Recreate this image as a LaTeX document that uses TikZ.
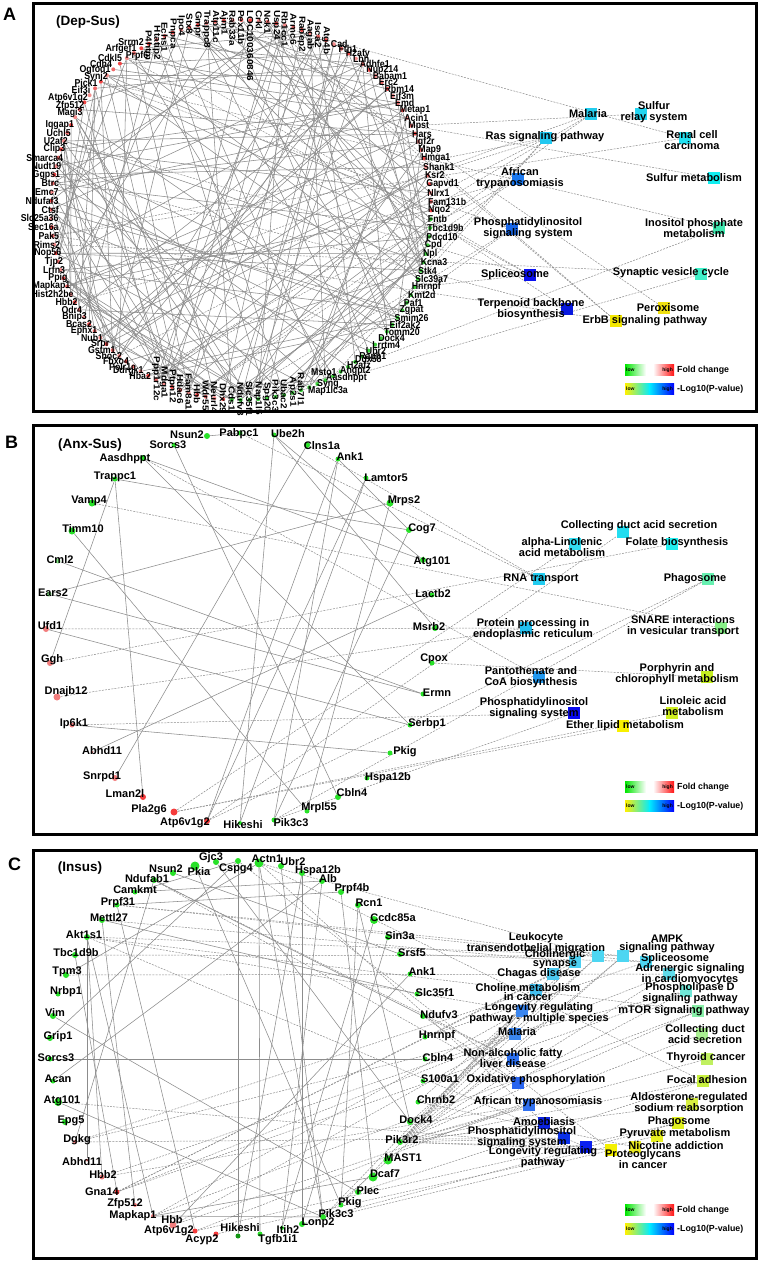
\documentclass[tikz,border=0pt]{standalone}
\usepackage{fontspec}
\usepackage{graphicx}
\setmainfont{Liberation Sans}
\pgfdeclarelayer{bg}
\pgfdeclarelayer{paper}
\pgfsetlayers{paper,bg,main}
\definecolor{edgec}{RGB}{140,140,140}
\definecolor{dotG}{RGB}{60,210,60}
\definecolor{rA0}{RGB}{240,70,70}
\definecolor{rA1}{RGB}{245,140,140}
\definecolor{rA2}{RGB}{240,105,105}
\definecolor{gG}{RGB}{40,225,40}
\definecolor{gP}{RGB}{130,230,130}
\definecolor{gD}{RGB}{20,150,20}
\definecolor{rR}{RGB}{245,60,60}
\definecolor{rP}{RGB}{242,125,125}
\definecolor{fcG}{RGB}{0,230,0}
\definecolor{fcR}{RGB}{255,20,20}
\definecolor{lgY}{RGB}{255,240,0}
\definecolor{lgC}{RGB}{0,235,255}
\definecolor{lgB}{RGB}{0,0,255}
\tikzset{
 panel/.style={draw=black,line width=3pt},
 plet/.style={font=\fontsize{18}{18}\selectfont\bfseries,inner sep=0},
 ptitle/.style={font=\fontsize{13.5}{13.5}\selectfont\bfseries,inner sep=0},
 adot/.style={circle,inner sep=0,minimum size=4pt,draw=none},
 albl/.style={font=\fontsize{10}{10}\selectfont\bfseries,inner sep=0},
 bdot/.style={circle,inner sep=0,draw=none},
 blbl/.style={font=\fontsize{11}{11}\selectfont\bfseries,inner sep=0},
 pwsq/.style={rectangle,inner sep=0,minimum size=12pt,draw=none},
 pwlbl/.style={font=\fontsize{11}{11}\selectfont\bfseries,inner sep=0,align=center},
 pwlblc/.style={font=\fontsize{11}{8.5}\selectfont\bfseries,inner sep=0,align=center},
 gedge/.style={draw=edgec,line width=0.55pt},
 pedge/.style={draw=edgec,line width=0.5pt,dash pattern=on 2pt off 1.2pt},
 lowtxt/.style={font=\fontsize{5}{5}\selectfont\bfseries,inner sep=0},
 legtxt/.style={font=\fontsize{8.8}{8.8}\selectfont\bfseries,inner sep=0,anchor=west},
}
\newcommand{\pw}[8]{\definecolor{pwc}{HTML}{#6}\node[pwsq,fill=pwc] (#1) at (#2,#3) {};\node[#8] (#1-l) at (#4,#5) {#7};}
\newcommand{\gn}[8]{\node[bdot,fill=#7,minimum size=#8pt] (#1#2) at (#3,#4) {};\node[blbl] (#1#2-l) at (#5,#6) {#2};}
\newcommand{\legendbars}[3]{%
 \path[left color=fcG,right color=white] (#2,#3) rectangle ++(21,11);
 \path[left color=white,right color=fcR] (#2+28,#3) rectangle ++(21,11);
 \node[lowtxt,anchor=west] (#1lo1) at (#2+1,#3+6) {low};
 \node[lowtxt,anchor=east] (#1hi1) at (#2+48,#3+6) {high};
 \node[legtxt] (#1fc) at (#2+52,#3+6) {Fold change};
 \path[left color=lgY,right color=lgC] (#2,#3+19) rectangle ++(25,11);
 \path[left color=lgC,right color=lgB] (#2+24.5,#3+19) rectangle ++(24.5,11);
 \node[lowtxt,anchor=west] (#1lo2) at (#2+1,#3+25) {low};
 \node[lowtxt,anchor=east] (#1hi2) at (#2+48,#3+25) {high};
 \node[legtxt] (#1pv) at (#2+52,#3+25) {-Log10(P-value)};
}
\def\genesA{P4htm,Htatip2,Echs1,Pnpca,Ipo4,Stx8,Gmpr,Trappc8,Atp11c,Ajm1,Rab33a,Pex11b,LOC100360846,Crkl,Nck1,Usp24,Rb1cc1,Armc6,Rabep2,Aagab,Isca2,Atg4b,Cad,Fth1,H2afy,Lbh,Adhfe1,Nup214,Babam1,Erc2,Rbm14,Eif3m,Emd,Metap1,Acin1,Mpst,Hars,Igf2r,Map9,Hmga1,Shank1,Ksr2,Gapvd1,Nlrx1,Fam131b,Nqo2,Fntb,Tbc1d9b,Pdcd10,Cpd,Npl,Kcna3,Stk4,Slc39a7,Hnrnpf,Kmt2d,Paf1,Zgpat,Smim26,Eif2ak2,Tomm20,Dock4,Lrrtm4,Ubr2,Raph1,Ddx58,H2afz,Msto1,Angpt2,Aasdhppt,Syng,Map1lc3a,Rab7l1,Ap2s1,Ubac2,Pik3c3,Spg20,Nap1l5,Slc35f1,Ndufv3,Cds1,Dhx29,Neurl4,Wdr55,Hbb,Fam8a1,Hdac6,Ptpn12,Mdga1,Ppp1r12c,Hba2,Ddrgk1,Polr1c,Fbxo4,Shoc2,Gstm1,Srpr,Nub1,Ephx1,Bcas2,Bnip3,Odr4,Hbb2,Hist2h2be,Mapkap1,Ppig,Lrfn3,Tjp2,Nop56,Rims2,Pak5,Sec16a,Slc25a36,Ctsf,Ndufaf3,Emc7,Btrc,Ggps1,Nudt19,Smarca4,Clip3,U2af2,Uchl5,Iqgap1,Magi3,Zfp512,Atp6v1g2,Eif3i,Pick1,Synj2,Ogfod1,Cdh4,Cdkl5,Prpf6,Arfgef1,Srrm2}
\begin{document}
\begin{tikzpicture}[x=1pt,y=-1pt]
\useasboundingbox (0,0) rectangle (761,1262);
\begin{pgfonlayer}{paper}
\fill[white] (0,0) rectangle (761,1262);
\end{pgfonlayer}
% ================= PANEL A =================
\draw[panel] (33,3) rectangle (756,411);
\node[plet] (letA) at (9.5,14.5) {A};
\node[ptitle] (titA) at (88,22) {(Dep-Sus)};
\foreach \nm [count=\i from 0] in \genesA {
  \pgfmathsetmacro\ang{119-\i*2.647059}
  \pgfmathsetmacro\gx{241+190*cos(\ang)}
  \pgfmathsetmacro\gy{210-190*sin(\ang)}
  \pgfmathtruncatemacro\m{mod(\i,3)}
  \ifnum\i>45\relax\ifnum\i<81\relax\def\dc{dotG}\else\def\dc{rA\m}\fi\else\def\dc{rA\m}\fi
  \node[adot,fill=\dc] (gA\i) at (\gx,\gy) {};
}
\foreach \nm [count=\i from 0] in \genesA {
  \pgfmathsetmacro\ang{119-\i*2.647059}
  \pgfmathsetmacro\gx{241+190*cos(\ang)}
  \pgfmathsetmacro\gy{210-190*sin(\ang)}
  \def\skipit{0}
  \ifnum\i>123\relax\def\skipit{1}\fi
  \ifnum\i>64\relax\ifnum\i<72\relax\def\skipit{1}\fi\fi
  \ifnum\skipit=0\relax
  \ifnum\i<22\relax
    \pgfmathsetmacro\ly{max(10,\gy-14)}
    \node[albl,rotate=-90,anchor=west] (lA\i) at (\gx,\ly) {\scalebox{1}[0.88]{\nm}};
  \else\ifnum\i<72\relax
    \node[albl,anchor=west] (lA\i) at (\gx-3,\gy) {\scalebox{0.88}[1]{\nm}};
  \else\ifnum\i<90\relax
    \node[albl,rotate=-90] (lA\i) at (\gx,\gy-1) {\scalebox{1}[0.88]{\nm}};
  \else
    \pgfmathsetmacro\off{3+5*max(0,1-abs(sin(\ang))/0.45)}
    \node[albl,anchor=east] (lA\i) at (\gx+\off,\gy) {\scalebox{0.88}[1]{\nm}};
  \fi\fi\fi
  \fi
}
\foreach \i/\nm/\x/\y in {124/Magi3/70/113,125/Zfp512/70/106,126/Atp6v1g2/68/98,127/Eif3i/81/90,128/Pick1/86/83,129/Synj2/96/77,130/Ogfod1/95/70,131/Cdh4/101/64,132/Cdkl5/110/58,133/Prpf6/137/56,134/Arfgef1/121/49,135/Srrm2/131/42}
  {\node[albl] (lA\i) at (\x,\y) {\scalebox{0.88}[1]{\nm}};}
\foreach \i/\nm/\x/\y in {65/Ddx58/355/359,66/H2afz/347/365,67/Msto1/311/372,68/Angpt2/340/371,69/Aasdhppt/326/378,70/Syng/317/384,71/Map1lc3a/308/391}
  {\node[albl,anchor=west] (lA\i) at (\x,\y) {\scalebox{0.88}[1]{\nm}};}
\pw{aMal}{591}{114}{588}{114}{22CCEE}{Malaria}{pwlbl}
\pw{aSRS}{641}{114}{654}{112}{22D4F0}{Sulfur\\relay system}{pwlbl}
\pw{aRas}{546}{138}{545}{137}{22C8F0}{Ras signaling pathway}{pwlbl}
\pw{aRen}{685}{138}{692}{140}{22E0F0}{Renal cell\\carcinoma}{pwlbl}
\pw{aAfr}{518}{179}{520}{178}{1A78F0}{African\\trypanosomiasis}{pwlbl}
\pw{aSM}{714}{178}{694}{178}{10EEF0}{Sulfur metabolism}{pwlbl}
\pw{aPIS}{512}{229}{528}{228}{1866E8}{Phosphatidylinositol\\signaling system}{pwlbl}
\pw{aIno}{719}{228}{694}{228}{40E8B0}{Inositol phosphate\\metabolism}{pwlbl}
\pw{aSpl}{530}{275}{515}{275}{0A10F0}{Spliceosome}{pwlbl}
\pw{aSyn}{701}{274}{671}{273}{40F0C8}{Synaptic vesicle cycle}{pwlbl}
\pw{aTer}{567}{309}{531}{309}{0818E0}{Terpenoid backbone\\biosynthesis}{pwlbl}
\pw{aPer}{664}{308}{668}{308}{F0E010}{Peroxisome}{pwlbl}
\pw{aErb}{616}{321}{645}{321}{F4E800}{ErbB signaling pathway}{pwlbl}
\legendbars{lgA}{625}{364}
\begin{pgfonlayer}{bg}
\pgfmathsetseed{20240}
\foreach \k in {1,...,200}{
  \pgfmathrandominteger{\ra}{0}{135}
  \pgfmathrandominteger{\rb}{0}{135}
  \pgfmathtruncatemacro\dd{abs(\ra-\rb)}
  \ifnum\dd>14\relax\ifnum\dd<122\relax\draw[gedge] (gA\ra) -- (gA\rb);\fi\fi
}
\foreach \p/\g in {aMal/84,aMal/90,aMal/102,aAfr/84,aAfr/90,aAfr/102,aSRS/35,aSM/35,aRas/41,aRas/68,aRas/52,aRas/110,aRas/94,aRen/110,aRen/13,aErb/110,aErb/13,aErb/14,aPIS/75,aPIS/80,aPIS/129,aIno/75,aIno/129,aSpl/135,aSpl/133,aSpl/121,aSpl/54,aSyn/73,aSyn/109,aTer/117,aTer/46,aPer/11}
  {\draw[pedge] (\p) -- (gA\g);}
\end{pgfonlayer}
% ================= PANEL B =================
\draw[panel] (33,425.5) rectangle (756,834);
\node[plet] (letB) at (11.5,442.5) {B};
\node[ptitle] (titB) at (90,445) {(Anx-Sus)};
\gn{b}{Nsun2}{207}{436}{187}{435}{gG}{6}
\gn{b}{Pabpc1}{240}{433}{239}{434}{gG}{5}
\gn{b}{Ube2h}{274}{435}{288}{434}{gG}{5}
\gn{b}{Sorcs3}{174}{445}{168}{445}{gG}{5}
\gn{b}{Clns1a}{307}{445}{322}{446}{gG}{6}
\gn{b}{Aasdhppt}{143}{458}{125}{459}{gG}{6}
\gn{b}{Ank1}{338}{459}{350}{457}{gG}{5}
\gn{b}{Trappc1}{115}{479}{115}{477}{gG}{5}
\gn{b}{Lamtor5}{366}{478}{386}{478}{gG}{5}
\gn{b}{Vamp4}{92}{503}{89}{501}{gG}{7}
\gn{b}{Mrps2}{390}{503}{404}{501}{gG}{7}
\gn{b}{Timm10}{72}{531}{83}{529}{gG}{7}
\gn{b}{Cog7}{409}{530}{422}{529}{gG}{6}
\gn{b}{Cml2}{58}{561}{60}{560}{gP}{5}
\gn{b}{Atg101}{423}{560}{432}{562}{gG}{6}
\gn{b}{Ears2}{49}{594}{53}{593}{gP}{5}
\gn{b}{Lactb2}{432}{595}{433}{594}{gG}{5}
\gn{b}{Ufd1}{46}{629}{50}{626}{rP}{6}
\gn{b}{Msrb2}{435}{628}{429}{627}{gG}{6}
\gn{b}{Ggh}{50}{663}{52}{660}{rP}{6}
\gn{b}{Cpox}{432}{663}{434}{659}{gG}{5}
\gn{b}{Dnajb12}{57}{697}{66}{692}{rP}{7}
\gn{b}{Ermn}{423}{694}{437}{693}{gG}{5}
\gn{b}{Ip6k1}{72}{725}{74}{724}{rP}{5}
\gn{b}{Serbp1}{410}{725}{427}{724}{gG}{5}
\gn{b}{Abhd11}{92}{752}{102}{751}{rP}{3}
\gn{b}{Pkig}{390}{753}{405}{752}{gG}{5}
\gn{b}{Snrpd1}{115}{778}{102}{777}{rP}{6}
\gn{b}{Hspa12b}{367}{778}{388}{778}{gG}{5}
\gn{b}{Lman2l}{143}{797}{125}{794}{rR}{6}
\gn{b}{Cbln4}{338}{797}{352}{793}{gG}{6}
\gn{b}{Pla2g6}{174}{812}{149}{810}{rR}{7}
\gn{b}{Mrpl55}{307}{811}{319}{808}{gG}{5}
\gn{b}{Atp6v1g2}{207}{821}{185}{823}{rR}{6}
\gn{b}{Pik3c3}{274}{820}{291}{823}{gG}{5}
\gn{b}{Hikeshi}{240}{823}{243}{825}{gG}{4}
\pw{bCol}{623}{532}{639}{526}{22DDF0}{Collecting duct acid secretion}{pwlbl}
\pw{bAlin}{575}{544}{562}{547}{33DDF0}{alpha-Linolenic\\acid metabolism}{pwlbl}
\pw{bFol}{672}{544}{677}{543}{22EEF0}{Folate biosynthesis}{pwlbl}
\pw{bRNA}{539}{579}{541}{579}{22CCF0}{RNA transport}{pwlbl}
\pw{bPhag}{708}{579}{695}{579}{66F0B0}{Phagosome}{pwlbl}
\pw{bProt}{526}{628}{533}{629}{22C0F0}{Protein processing in\\endoplasmic reticulum}{pwlbl}
\pw{bSnare}{721}{628}{683}{626}{88F088}{SNARE interactions\\in vesicular transport}{pwlbl}
\pw{bPant}{539}{677}{531}{677}{2299F0}{Pantothenate and\\CoA biosynthesis}{pwlbl}
\pw{bPorph}{707}{677}{677}{674}{C4F020}{Porphyrin and\\chlorophyll metabolism}{pwlbl}
\pw{bPIS}{574}{713}{534}{708}{0A0AF0}{Phosphatidylinositol\\signaling system}{pwlbl}
\pw{bLino}{672}{713}{693}{706}{D0F020}{Linoleic acid\\metabolism}{pwlbl}
\pw{bEther}{623}{726}{625}{726}{F8F000}{Ether lipid metabolism}{pwlbl}
\legendbars{lgB}{625}{781}
\begin{pgfonlayer}{bg}
\foreach \a/\b in {Nsun2/Pabpc1,Sorcs3/Cbln4,Aasdhppt/Atg101,Trappc1/Cog7,Trappc1/Lman2l,Trappc1/Ggh,Timm10/Mrpl55,Cml2/Ermn,Ears2/Mrps2,Ears2/Ermn,Ufd1/Serbp1,Ip6k1/Pkig,Snrpd1/Clns1a,Atp6v1g2/Ank1,Pik3c3/Cog7,Mrpl55/Mrps2,Ube2h/Msrb2,Ube2h/Atg101,Ank1/Cog7,Lamtor5/Hikeshi,Serbp1/Aasdhppt,Lactb2/Abhd11,Pik3c3/Ank1,Atp6v1g2/Lamtor5,Hikeshi/Ube2h}
  {\draw[gedge] (b\a) -- (b\b);}
\foreach \a/\b in {Pabpc1/RNA,Clns1a/RNA,Aasdhppt/Pant,Vamp4/Snare,Ufd1/Prot,Ggh/Fol,Dnajb12/Prot,Ip6k1/PIS,Pla2g6/Ether,Pla2g6/Lino,Pla2g6/Alin,Atp6v1g2/Col,Atp6v1g2/Phag,Pik3c3/PIS,Pik3c3/Phag,Cpox/Porph}
  {\draw[pedge] (b\a) -- (b\b);}
\end{pgfonlayer}
% ================= PANEL C =================
\draw[panel] (33,850) rectangle (756,1258.5);
\node[plet] (letC) at (14.5,864.5) {C};
\node[ptitle] (titC) at (80,868) {(Insus)};
\gn{c}{Gjc3}{216}{862}{211}{858}{gG}{6}
\gn{c}{Actn1}{259}{863}{267}{859}{gG}{9}
\gn{c}{Ubr2}{281}{866}{293}{862}{gG}{6}
\gn{c}{Pkia}{195}{866}{199}{872}{gG}{9}
\gn{c}{Nsun2}{173}{873}{166}{869}{gG}{6}
\gn{c}{Cspg4}{238}{861}{236}{869}{gG}{6}
\gn{c}{Hspa12b}{302}{873}{318}{871}{gG}{6}
\gn{c}{Ndufab1}{154}{880}{147}{879}{gG}{6}
\gn{c}{Alb}{322}{881}{328}{879}{gG}{6}
\gn{c}{Camkmt}{135}{892}{135}{890}{gG}{5}
\gn{c}{Prpf4b}{341}{892}{352}{889}{gG}{6}
\gn{c}{Prpf31}{117}{905}{118}{903}{gG}{5}
\gn{c}{Rcn1}{358}{905}{369}{903}{gG}{6}
\gn{c}{Mettl27}{102}{920}{109}{918}{gG}{6}
\gn{c}{Ccdc85a}{374}{920}{393}{918}{gG}{8}
\gn{c}{Akt1s1}{87}{937}{84}{935}{gG}{6}
\gn{c}{Sin3a}{388}{937}{400}{936}{gG}{6}
\gn{c}{Tbc1d9b}{75}{955}{76}{953}{gG}{6}
\gn{c}{Srsf5}{400}{954}{412}{953}{gG}{6}
\gn{c}{Tpm3}{66}{975}{67}{972}{gG}{6}
\gn{c}{Ank1}{410}{974}{422}{972}{gG}{5}
\gn{c}{Nrbp1}{58}{994}{66}{992}{gG}{5}
\gn{c}{Slc35f1}{417}{994}{435}{993}{gG}{5}
\gn{c}{Vim}{53}{1016}{55}{1013}{gG}{6}
\gn{c}{Ndufv3}{423}{1016}{439}{1015}{gG}{6}
\gn{c}{Grip1}{50}{1038}{58}{1037}{gG}{6}
\gn{c}{Hnrnpf}{425}{1037}{437}{1036}{gG}{5}
\gn{c}{Sorcs3}{50}{1059}{56}{1058}{gG}{5}
\gn{c}{Cbln4}{425}{1059}{438}{1058}{gG}{5}
\gn{c}{Acan}{53}{1081}{58}{1079}{gG}{5}
\gn{c}{S100a1}{423}{1081}{440}{1079}{gG}{5}
\gn{c}{Atg101}{58}{1102}{62}{1101}{gG}{8}
\gn{c}{Chrnb2}{418}{1102}{436}{1100}{gG}{5}
\gn{c}{Epg5}{65}{1122}{71}{1121}{gG}{6}
\gn{c}{Dock4}{410}{1122}{416}{1120}{gG}{6}
\gn{c}{Dgkg}{75}{1142}{77}{1140}{rP}{4}
\gn{c}{Pik3r2}{400}{1142}{402}{1140}{gG}{6}
\gn{c}{Abhd11}{87}{1160}{82}{1162}{rP}{3}
\gn{c}{MAST1}{388}{1160}{403}{1158}{gG}{9}
\gn{c}{Hbb2}{102}{1177}{103}{1175}{rP}{5}
\gn{c}{Dcaf7}{373}{1177}{385}{1174}{gG}{9}
\gn{c}{Gna14}{117}{1192}{102}{1192}{rR}{5}
\gn{c}{Plec}{358}{1192}{368}{1191}{gG}{6}
\gn{c}{Zfp512}{135}{1205}{125}{1204}{rP}{4}
\gn{c}{Pkig}{341}{1205}{350}{1203}{gG}{5}
\gn{c}{Mapkap1}{153}{1216}{133}{1216}{rP}{4}
\gn{c}{Pik3c3}{323}{1217}{336}{1214}{gG}{6}
\gn{c}{Hbb}{173}{1225}{172}{1220}{rP}{7}
\gn{c}{Lonp2}{302}{1224}{318}{1223}{gG}{6}
\gn{c}{Atp6v1g2}{195}{1231}{169}{1231}{rR}{5}
\gn{c}{Acyp2}{216}{1234}{202}{1240}{rR}{5}
\gn{c}{Hikeshi}{238}{1236}{240}{1228}{gD}{5}
\gn{c}{Tgfb1i1}{260}{1234}{278}{1240}{gG}{5}
\gn{c}{Itih2}{282}{1228}{288}{1230}{gG}{4}
\pw{cLeu}{598}{956}{536}{943}{4DD6F2}{Leukocyte\\transendothelial migration}{pwlblc}
\pw{cAMPK}{623}{956}{667}{944}{4DD6F2}{AMPK\\signaling pathway}{pwlblc}
\pw{cChol}{575}{962}{555}{959}{4DD0F2}{Cholinergic\\synapse}{pwlblc}
\pw{cSpl}{646}{962}{675}{959}{4DD6F2}{Spliceosome}{pwlblc}
\pw{cChag}{553}{974}{539}{974}{4CC8F0}{Chagas disease}{pwlblc}
\pw{cAdr}{669}{974}{690}{974}{60DCEA}{Adrenergic signaling\\in cardiomyocytes}{pwlblc}
\pw{cChoM}{536}{990}{528}{992}{44C0F0}{Choline metabolism\\in cancer}{pwlblc}
\pw{cPLD}{686}{991}{690}{993}{70E8D8}{Phospholipase D\\signaling pathway}{pwlblc}
\pw{cLonM}{522}{1011}{539}{1013}{3A86F0}{Longevity regulating\\pathway - multiple species}{pwlblc}
\pw{cmTOR}{698}{1011}{684}{1011}{88F0A8}{mTOR signaling pathway}{pwlblc}
\pw{cMal}{515}{1034}{517}{1032}{3A86F0}{Malaria}{pwlblc}
\pw{cCol}{702}{1034}{705}{1034}{A8F090}{Collecting duct\\acid secretion}{pwlblc}
\pw{cNAF}{513}{1059}{513}{1058}{2C70F0}{Non-alcoholic fatty\\liver disease}{pwlblc}
\pw{cThy}{707}{1059}{706}{1058}{C0F060}{Thyroid cancer}{pwlblc}
\pw{cOx}{518}{1083}{536}{1080}{2864F0}{Oxidative phosphorylation}{pwlblc}
\pw{cFoc}{703}{1081}{707}{1080}{C8F040}{Focal adhesion}{pwlblc}
\pw{cAfr}{529}{1105}{538}{1102}{3070F0}{African trypanosomiasis}{pwlblc}
\pw{cAld}{692}{1104}{689}{1103}{D8F040}{Aldosterone-regulated\\sodium reabsorption}{pwlblc}
\pw{cAmo}{544}{1123}{544}{1122}{0A22E0}{Amoebiasis}{pwlblc}
\pw{cPhag}{678}{1123}{679}{1122}{E0F020}{Phagosome}{pwlblc}
\pw{cPIS}{564}{1138}{522}{1137}{0A30E8}{Phosphatidylinositol\\signaling system}{pwlblc}
\pw{cPyr}{657}{1136}{675}{1134}{E8F020}{Pyruvate metabolism}{pwlblc}
\pw{cLon}{586}{1147}{543}{1157}{0A20F0}{Longevity regulating\\pathway}{pwlblc}
\pw{cNic}{635}{1147}{676}{1146}{E8E820}{Nicotine addiction}{pwlblc}
\pw{cPro}{611}{1150}{643}{1159}{F4F000}{Proteoglycans\\in cancer}{pwlblc}
\legendbars{lgC}{625}{1204}
\begin{pgfonlayer}{bg}
\foreach \a/\b in {Actn1/Tgfb1i1,Sorcs3/Cbln4,Mapkap1/Pik3c3,Vim/Plec,Atg101/Pik3c3,Acan/Alb,Prpf31/Prpf4b,Camkmt/Cspg4,Ndufab1/Ndufv3,Pkia/Pkig,Ubr2/Pik3c3,Hspa12b/Lonp2,Alb/Itih2,Prpf4b/Dcaf7,Sin3a/Lonp2,Akt1s1/Mapkap1,Mettl27/Zfp512,Tbc1d9b/Gna14,Akt1s1/Abhd11,Ndufab1/Dgkg,Prpf31/Atp6v1g2,Cspg4/Grip1,Cspg4/Hikeshi,Dock4/Rcn1,Actn1/Pik3c3,Hspa12b/Hikeshi,Ccdc85a/Itih2,Ank1/Hbb,Rcn1/Pkig,Tpm3/Actn1,Camkmt/Alb,Nsun2/Srsf5,Gjc3/Dock4,Mettl27/Slc35f1,Mapkap1/Dcaf7,Akt1s1/Hbb2}
  {\draw[gedge] (c\a) -- (c\b);}
\foreach \p in {Leu,AMPK,Chol,Chag,ChoM,PLD,LonM,mTOR,NAF,Foc,Ald,PIS,Lon,Pro,Thy,Amo,Afr,Adr}
  {\draw[pedge] (cPik3r2) -- (c\p);}
\foreach \a/\b in {Srsf5/Spl,Prpf31/Spl,Hnrnpf/Spl,Akt1s1/mTOR,Akt1s1/AMPK,Akt1s1/LonM,Akt1s1/Lon,Mapkap1/mTOR,Mapkap1/LonM,Tpm3/Adr,Actn1/Foc,Actn1/Leu,Actn1/Amo,Atp6v1g2/Phag,Atp6v1g2/Col,Hbb/Mal,Hbb/Afr,Hbb2/Mal,Hbb2/Afr,Dgkg/ChoM,Dgkg/PLD,Dgkg/PIS,Chrnb2/Chol,Chrnb2/Nic,Ndufab1/Ox,Ndufab1/NAF,Ndufv3/Ox,Ndufv3/NAF,Acyp2/Pyr,Cspg4/Pro,Gna14/Chol,Gna14/Adr,Gna14/PLD,Gna14/Chag,Pik3c3/Phag,Pik3c3/LonM,Pik3c3/AMPK,Atg101/Lon,Prpf31/AMPK,Tbc1d9b/Leu,Mettl27/Chol,Plec/Foc,Dock4/Leu,Pkig/Chol,Lonp2/Pro}
  {\draw[pedge] (c\a) -- (c\b);}
\end{pgfonlayer}
\end{tikzpicture}
\end{document}
